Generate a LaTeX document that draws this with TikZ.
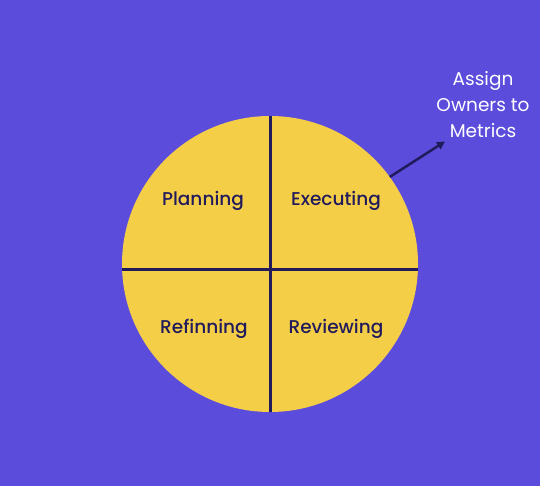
\documentclass[tikz,border=0pt]{standalone}
\usepackage{fontspec}
\setmainfont{Poppins}
\newfontfamily\popmed{Poppins Medium}
\usetikzlibrary{arrows.meta}
\definecolor{bgpurple}{RGB}{91,76,219}
\definecolor{wheel}{RGB}{245,206,72}
\definecolor{ink}{RGB}{33,27,92}
\tikzset{
  quad/.style={font=\popmed\fontsize{18.5}{22}\selectfont, text=ink},
  divider/.style={draw=ink, line width=3pt},
  callout/.style={font=\fontsize{18.5}{26}\selectfont, text=white, align=center},
}
\begin{document}
\begin{tikzpicture}[x=1pt,y=1pt]
\fill[bgpurple] (0,0) rectangle (540,486);
\useasboundingbox (0,0) rectangle (540,486);
\node[circle, fill=wheel, minimum size=296pt, inner sep=0pt] (c) at (270,222) {};
\coordinate (vt) at (270,370);
\coordinate (vb) at (270,74);
\coordinate (hl) at (122,216);
\coordinate (hr) at (418,216);
\draw[divider] (vt) -- (vb);
\draw[divider] (hl) -- (hr);
\node[quad] (plan) at (203,285) {Planning};
\node[quad] (exec) at (336,285) {Executing};
\node[quad] (refi) at (204,157) {Refinning};
\node[quad] (revi) at (336,157) {Reviewing};
\node[callout] (lab) at (483,381) {Assign\\Owners to\\Metrics};
\coordinate (tip) at (445,344.5);
\draw[ink, line width=2.5pt, -{Triangle[length=8pt,width=8pt]}] (c.36) -- (tip);
\end{tikzpicture}
\end{document}
